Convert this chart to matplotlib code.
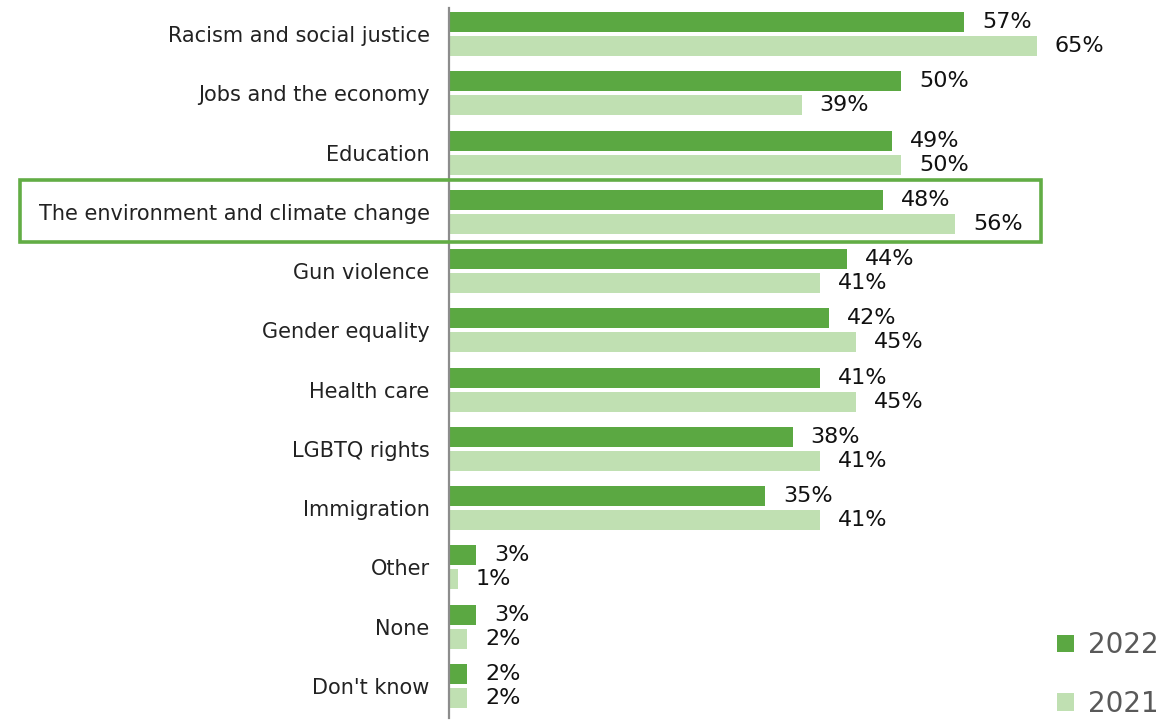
import matplotlib.pyplot as plt
import numpy as np
from matplotlib.patches import Rectangle, Patch

categories = [
    "Racism and social justice", "Jobs and the economy", "Education",
    "The environment and climate change", "Gun violence", "Gender equality",
    "Health care", "LGBTQ rights", "Immigration", "Other", "None", "Don't know",
]
vals_2022 = [57, 50, 49, 48, 44, 42, 41, 38, 35, 3, 3, 2]
vals_2021 = [65, 39, 50, 56, 41, 45, 45, 41, 41, 1, 2, 2]
highlight = "The environment and climate change"

dark = "#5ba842"
light = "#c0e0b2"

W, H = 1170, 720
fig = plt.figure(figsize=(W / 100, H / 100), dpi=100)
ax_left = 449 / W
ax = fig.add_axes([ax_left, 2 / H, 1 - ax_left, 1 - 10 / H])

y = np.arange(len(categories))
bh = 0.337
off = 0.2025
ax.barh(y - off, vals_2022, height=bh, color=dark, label="2022")
ax.barh(y + off, vals_2021, height=bh, color=light, label="2021")

px_per_unit = 9.04
ax.set_xlim(0, (W - 449) / px_per_unit)
ax.set_ylim(11.54, -0.439)

for i in range(len(categories)):
    ax.annotate(f"{vals_2022[i]}%", (vals_2022[i], y[i] - off), xytext=(18, 0),
                textcoords="offset pixels", va="center", ha="left", fontsize=16, color="#111111")
    ax.annotate(f"{vals_2021[i]}%", (vals_2021[i], y[i] + off), xytext=(18, 0),
                textcoords="offset pixels", va="center", ha="left", fontsize=16, color="#111111")

ax.set_yticks(y)
ax.set_yticklabels(categories, fontsize=15, color="#222222")
ax.tick_params(axis="y", length=0, pad=14)
ax.set_xticks([])
for s in ["top", "right", "bottom"]:
    ax.spines[s].set_visible(False)
ax.spines["left"].set_color("#8c8c8c")
ax.spines["left"].set_linewidth(1.6)

# box around the highlighted category
hi = categories.index(highlight)
x0 = (20 - 449) / px_per_unit
x1 = 65.5
box = Rectangle((x0, hi - 0.54), x1 - x0, 1.05, fill=False, edgecolor="#62ad45",
                linewidth=2.6, clip_on=False, zorder=5)
ax.add_patch(box)

handles = [Patch(facecolor=dark, label="2022"), Patch(facecolor=light, label="2021")]
leg = ax.legend(handles=handles, loc="upper left", bbox_to_anchor=(1046 / W, 1 - 620 / H),
                bbox_transform=fig.transFigure, frameon=False, fontsize=20,
                handlelength=0.6, handleheight=0.6, handletextpad=0.5, labelspacing=1.1,
                borderaxespad=0)
for t in leg.get_texts():
    t.set_color("#595959")

fig.savefig("out.png", dpi=100)
